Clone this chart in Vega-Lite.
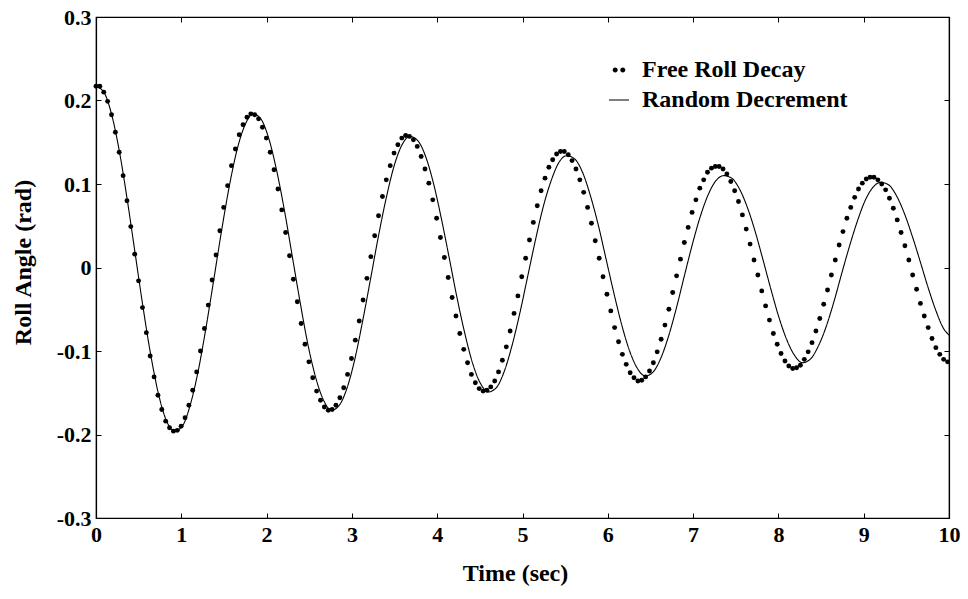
{
  "$schema": "https://vega.github.io/schema/vega-lite/v6.json",
  "width": 853,
  "height": 501,
  "autosize": "none",
  "padding": {"left": 96, "top": 17, "right": 19, "bottom": 81},
  "background": "white",
  "config": {
    "view": {"stroke": "black", "strokeWidth": 1.2},
    "axis": {
      "labelFont": "Liberation Serif", "labelFontWeight": "bold", "labelFontSize": 22, "labelColor": "black",
      "titleFont": "Liberation Serif", "titleFontWeight": "bold", "titleFontSize": 24, "titleColor": "black",
      "domainColor": "black", "domainWidth": 1.2, "tickColor": "black", "tickWidth": 1, "grid": false, "labelFlush": false
    },
    "legend": {"labelFont": "Liberation Serif", "labelFontWeight": "bold", "labelFontSize": 24, "labelColor": "black", "padding": 0, "labelLimit": 0}
  },
  "datasets": {
    "dots": [
      {"t":0,"roll":0.217},{"t":0.045,"roll":0.217},{"t":0.091,"roll":0.210},{"t":0.136,"roll":0.199},{"t":0.182,"roll":0.183},{"t":0.227,"roll":0.162},{"t":0.272,"roll":0.138},{"t":0.318,"roll":0.110},{"t":0.363,"roll":0.080},{"t":0.408,"roll":0.049},{"t":0.454,"roll":0.016},{"t":0.499,"roll":-0.016},{"t":0.545,"roll":-0.048},{"t":0.590,"roll":-0.078},{"t":0.635,"roll":-0.106},{"t":0.681,"roll":-0.131},{"t":0.726,"roll":-0.153},{"t":0.771,"roll":-0.170},{"t":0.817,"roll":-0.184},{"t":0.862,"roll":-0.192},{"t":0.908,"roll":-0.196},
      {"t":0.953,"roll":-0.195},{"t":0.998,"roll":-0.190},{"t":1.044,"roll":-0.180},{"t":1.089,"roll":-0.165},{"t":1.134,"roll":-0.147},{"t":1.180,"roll":-0.125},{"t":1.225,"roll":-0.100},{"t":1.271,"roll":-0.073},{"t":1.316,"roll":-0.045},{"t":1.361,"roll":-0.015},{"t":1.407,"roll":0.015},{"t":1.452,"roll":0.044},{"t":1.497,"roll":0.072},{"t":1.543,"roll":0.098},{"t":1.588,"roll":0.122},{"t":1.634,"roll":0.142},{"t":1.679,"roll":0.159},{"t":1.724,"roll":0.171},{"t":1.770,"roll":0.180},{"t":1.815,"roll":0.184},
      {"t":1.860,"roll":0.183},{"t":1.906,"roll":0.178},{"t":1.951,"roll":0.168},{"t":1.997,"roll":0.155},{"t":2.042,"roll":0.138},{"t":2.087,"roll":0.117},{"t":2.133,"roll":0.094},{"t":2.178,"roll":0.069},{"t":2.223,"roll":0.042},{"t":2.269,"roll":0.014},{"t":2.314,"roll":-0.014},{"t":2.360,"roll":-0.041},{"t":2.405,"roll":-0.067},{"t":2.450,"roll":-0.092},{"t":2.496,"roll":-0.113},{"t":2.541,"roll":-0.132},{"t":2.586,"roll":-0.148},{"t":2.632,"roll":-0.159},{"t":2.677,"roll":-0.167},{"t":2.723,"roll":-0.171},
      {"t":2.768,"roll":-0.170},{"t":2.813,"roll":-0.165},{"t":2.859,"roll":-0.156},{"t":2.904,"roll":-0.144},{"t":2.949,"roll":-0.128},{"t":2.995,"roll":-0.109},{"t":3.040,"roll":-0.087},{"t":3.086,"roll":-0.064},{"t":3.131,"roll":-0.039},{"t":3.176,"roll":-0.013},{"t":3.222,"roll":0.013},{"t":3.267,"roll":0.038},{"t":3.312,"roll":0.062},{"t":3.358,"roll":0.085},{"t":3.403,"roll":0.105},{"t":3.449,"roll":0.122},{"t":3.494,"roll":0.137},{"t":3.539,"roll":0.147},{"t":3.585,"roll":0.155},{"t":3.630,"roll":0.158},
      {"t":3.675,"roll":0.157},{"t":3.721,"roll":0.153},{"t":3.766,"roll":0.145},{"t":3.812,"roll":0.133},{"t":3.857,"roll":0.118},{"t":3.902,"roll":0.101},{"t":3.948,"roll":0.081},{"t":3.993,"roll":0.059},{"t":4.038,"roll":0.036},{"t":4.084,"roll":0.012},{"t":4.129,"roll":-0.012},{"t":4.175,"roll":-0.036},{"t":4.220,"roll":-0.058},{"t":4.265,"roll":-0.079},{"t":4.311,"roll":-0.098},{"t":4.356,"roll":-0.114},{"t":4.401,"roll":-0.128},{"t":4.447,"roll":-0.138},{"t":4.492,"roll":-0.145},{"t":4.538,"roll":-0.148},
      {"t":4.583,"roll":-0.147},{"t":4.628,"roll":-0.143},{"t":4.674,"roll":-0.136},{"t":4.719,"roll":-0.125},{"t":4.764,"roll":-0.111},{"t":4.810,"roll":-0.095},{"t":4.855,"roll":-0.076},{"t":4.901,"roll":-0.055},{"t":4.946,"roll":-0.034},{"t":4.991,"roll":-0.011},{"t":5.037,"roll":0.011},{"t":5.082,"roll":0.033},{"t":5.127,"roll":0.054},{"t":5.173,"roll":0.074},{"t":5.218,"roll":0.092},{"t":5.264,"roll":0.107},{"t":5.309,"roll":0.120},{"t":5.354,"roll":0.129},{"t":5.400,"roll":0.136},{"t":5.445,"roll":0.139},
      {"t":5.490,"roll":0.139},{"t":5.536,"roll":0.135},{"t":5.581,"roll":0.128},{"t":5.627,"roll":0.118},{"t":5.672,"roll":0.105},{"t":5.717,"roll":0.090},{"t":5.763,"roll":0.072},{"t":5.808,"roll":0.053},{"t":5.853,"roll":0.032},{"t":5.899,"roll":0.011},{"t":5.944,"roll":-0.011},{"t":5.990,"roll":-0.032},{"t":6.035,"roll":-0.052},{"t":6.080,"roll":-0.072},{"t":6.126,"roll":-0.089},{"t":6.171,"roll":-0.104},{"t":6.216,"roll":-0.116},{"t":6.262,"roll":-0.126},{"t":6.307,"roll":-0.132},{"t":6.353,"roll":-0.136},
      {"t":6.398,"roll":-0.135},{"t":6.443,"roll":-0.131},{"t":6.489,"roll":-0.124},{"t":6.534,"roll":-0.114},{"t":6.579,"roll":-0.101},{"t":6.625,"roll":-0.086},{"t":6.670,"roll":-0.069},{"t":6.716,"roll":-0.050},{"t":6.761,"roll":-0.030},{"t":6.806,"roll":-0.010},{"t":6.852,"roll":0.010},{"t":6.897,"roll":0.030},{"t":6.942,"roll":0.048},{"t":6.988,"roll":0.066},{"t":7.033,"roll":0.081},{"t":7.079,"roll":0.095},{"t":7.124,"roll":0.105},{"t":7.169,"roll":0.114},{"t":7.215,"roll":0.119},{"t":7.260,"roll":0.121},
      {"t":7.305,"roll":0.121},{"t":7.351,"roll":0.118},{"t":7.396,"roll":0.112},{"t":7.442,"roll":0.103},{"t":7.487,"roll":0.092},{"t":7.532,"roll":0.079},{"t":7.578,"roll":0.063},{"t":7.623,"roll":0.046},{"t":7.668,"roll":0.028},{"t":7.714,"roll":0.009},{"t":7.759,"roll":-0.009},{"t":7.805,"roll":-0.028},{"t":7.850,"roll":-0.046},{"t":7.895,"roll":-0.063},{"t":7.941,"roll":-0.079},{"t":7.986,"roll":-0.092},{"t":8.031,"roll":-0.103},{"t":8.077,"roll":-0.112},{"t":8.122,"roll":-0.118},{"t":8.168,"roll":-0.121},
      {"t":8.213,"roll":-0.120},{"t":8.258,"roll":-0.117},{"t":8.304,"roll":-0.110},{"t":8.349,"roll":-0.101},{"t":8.394,"roll":-0.090},{"t":8.440,"roll":-0.076},{"t":8.485,"roll":-0.061},{"t":8.531,"roll":-0.044},{"t":8.576,"roll":-0.027},{"t":8.621,"roll":-0.009},{"t":8.667,"roll":0.009},{"t":8.712,"roll":0.027},{"t":8.757,"roll":0.043},{"t":8.803,"roll":0.059},{"t":8.848,"roll":0.072},{"t":8.894,"roll":0.084},{"t":8.939,"roll":0.094},{"t":8.984,"roll":0.101},{"t":9.030,"roll":0.106},{"t":9.075,"roll":0.108},
      {"t":9.120,"roll":0.108},{"t":9.166,"roll":0.105},{"t":9.211,"roll":0.100},{"t":9.257,"roll":0.093},{"t":9.302,"roll":0.083},{"t":9.347,"roll":0.071},{"t":9.393,"roll":0.057},{"t":9.438,"roll":0.042},{"t":9.483,"roll":0.026},{"t":9.529,"roll":0.009},{"t":9.574,"roll":-0.009},{"t":9.620,"roll":-0.026},{"t":9.665,"roll":-0.043},{"t":9.710,"roll":-0.058},{"t":9.756,"roll":-0.072},{"t":9.801,"roll":-0.085},{"t":9.846,"roll":-0.096},{"t":9.892,"roll":-0.104},{"t":9.937,"roll":-0.110},{"t":9.983,"roll":-0.113}
    ],
    "line": [
      {"t":0,"roll":0.217},{"t":0.092,"roll":0.210},{"t":0.184,"roll":0.183},{"t":0.276,"roll":0.138},{"t":0.368,"roll":0.080},{"t":0.460,"roll":0.016},{"t":0.552,"roll":-0.048},{"t":0.644,"roll":-0.106},{"t":0.736,"roll":-0.153},{"t":0.828,"roll":-0.184},{"t":0.920,"roll":-0.196},
      {"t":1.012,"roll":-0.190},{"t":1.104,"roll":-0.165},{"t":1.196,"roll":-0.125},{"t":1.288,"roll":-0.073},{"t":1.380,"roll":-0.015},{"t":1.472,"roll":0.044},{"t":1.564,"roll":0.098},{"t":1.656,"roll":0.142},{"t":1.748,"roll":0.171},{"t":1.840,"roll":0.184},
      {"t":1.932,"roll":0.178},{"t":2.024,"roll":0.155},{"t":2.116,"roll":0.117},{"t":2.208,"roll":0.069},{"t":2.300,"roll":0.014},{"t":2.392,"roll":-0.041},{"t":2.484,"roll":-0.092},{"t":2.576,"roll":-0.132},{"t":2.668,"roll":-0.159},{"t":2.760,"roll":-0.171},
      {"t":2.852,"roll":-0.165},{"t":2.944,"roll":-0.144},{"t":3.036,"roll":-0.109},{"t":3.128,"roll":-0.063},{"t":3.220,"roll":-0.013},{"t":3.312,"roll":0.038},{"t":3.404,"roll":0.084},{"t":3.496,"roll":0.122},{"t":3.588,"roll":0.147},{"t":3.680,"roll":0.157},
      {"t":3.772,"roll":0.152},{"t":3.864,"roll":0.133},{"t":3.956,"roll":0.101},{"t":4.048,"roll":0.059},{"t":4.140,"roll":0.012},{"t":4.232,"roll":-0.036},{"t":4.324,"roll":-0.079},{"t":4.416,"roll":-0.115},{"t":4.508,"roll":-0.139},{"t":4.600,"roll":-0.149},
      {"t":4.692,"roll":-0.144},{"t":4.784,"roll":-0.125},{"t":4.876,"roll":-0.094},{"t":4.968,"roll":-0.055},{"t":5.060,"roll":-0.011},{"t":5.152,"roll":0.033},{"t":5.244,"roll":0.073},{"t":5.336,"roll":0.104},{"t":5.428,"roll":0.126},{"t":5.520,"roll":0.134},
      {"t":5.612,"roll":0.130},{"t":5.704,"roll":0.114},{"t":5.796,"roll":0.086},{"t":5.888,"roll":0.051},{"t":5.980,"roll":0.010},{"t":6.072,"roll":-0.031},{"t":6.164,"roll":-0.069},{"t":6.256,"roll":-0.100},{"t":6.348,"roll":-0.121},{"t":6.440,"roll":-0.130},
      {"t":6.532,"roll":-0.125},{"t":6.624,"roll":-0.108},{"t":6.716,"roll":-0.081},{"t":6.808,"roll":-0.047},{"t":6.900,"roll":-0.009},{"t":6.992,"roll":0.028},{"t":7.084,"roll":0.061},{"t":7.176,"roll":0.087},{"t":7.268,"roll":0.104},{"t":7.360,"roll":0.110},
      {"t":7.452,"roll":0.107},{"t":7.544,"roll":0.094},{"t":7.636,"roll":0.072},{"t":7.728,"roll":0.043},{"t":7.820,"roll":0.009},{"t":7.912,"roll":-0.026},{"t":8.004,"roll":-0.059},{"t":8.096,"roll":-0.086},{"t":8.188,"roll":-0.105},{"t":8.280,"roll":-0.114},
      {"t":8.372,"roll":-0.110},{"t":8.464,"roll":-0.095},{"t":8.556,"roll":-0.072},{"t":8.648,"roll":-0.042},{"t":8.740,"roll":-0.008},{"t":8.832,"roll":0.025},{"t":8.924,"roll":0.055},{"t":9.016,"roll":0.080},{"t":9.108,"roll":0.096},{"t":9.200,"roll":0.102},
      {"t":9.292,"roll":0.099},{"t":9.384,"roll":0.086},{"t":9.476,"roll":0.065},{"t":9.568,"roll":0.038},{"t":9.660,"roll":0.008},{"t":9.752,"roll":-0.023},{"t":9.844,"roll":-0.051},{"t":9.936,"roll":-0.073},{"t":10,"roll":-0.081}
    ]
  },
  "layer": [
    {
      "data": {"name": "dots"},
      "mark": {"type": "point", "filled": true, "size": 24, "opacity": 1},
      "encoding": {
        "x": {
          "field": "t", "type": "quantitative",
          "scale": {"domain": [0, 10], "nice": false, "zero": false},
          "axis": {"orient": "bottom", "values": [0,1,2,3,4,5,6,7,8,9,10], "tickSize": -5, "labelPadding": 11,
                   "title": "Time (sec)", "titleX": 419, "titleY": 62, "titleBaseline": "alphabetic", "titleAlign": "center"}
        },
        "y": {
          "field": "roll", "type": "quantitative",
          "scale": {"domain": [-0.3, 0.3], "nice": false, "zero": false},
          "axis": {"orient": "left", "values": [-0.3,-0.2,-0.1,0,0.1,0.2,0.3], "tickSize": -5, "labelPadding": 10,
                   "labelExpr": "datum.value < -0.001 ? '-' + format(-datum.value, '.1f') : (datum.value > 0.001 ? format(datum.value, '.1f') : '0')",
                   "title": "Roll Angle (rad)", "titleX": -66, "titleY": 245, "titleBaseline": "alphabetic", "titleAlign": "center", "titleAngle": -90}
        },
        "color": {
          "datum": "Free Roll Decay",
          "scale": {"domain": ["Free Roll Decay"], "range": ["black"]},
          "legend": {"orient": "none", "legendX": 511, "legendY": 41, "title": null,
                     "symbolType": "M-0.63,0A0.25,0.25,0,1,0,-0.13,0A0.25,0.25,0,1,0,-0.63,0ZM0.13,0A0.25,0.25,0,1,0,0.63,0A0.25,0.25,0,1,0,0.13,0Z",
                     "symbolSize": 400, "labelOffset": 11, "symbolFillColor": "black", "symbolStrokeWidth": 0, "labelLimit": 0}
        }
      }
    },
    {
      "data": {"name": "line"},
      "mark": {"type": "line", "color": "black", "strokeWidth": 1.1, "interpolate": "monotone"},
      "encoding": {
        "x": {
          "field": "t", "type": "quantitative",
          "axis": {"orient": "top", "values": [0,1,2,3,4,5,6,7,8,9,10], "tickSize": -5, "labels": false, "title": null}
        },
        "y": {
          "field": "roll", "type": "quantitative",
          "axis": {"orient": "right", "values": [-0.3,-0.2,-0.1,0,0.1,0.2,0.3], "tickSize": -5, "labels": false, "title": null}
        },
        "strokeDash": {
          "datum": "Random Decrement",
          "scale": {"domain": ["Random Decrement"], "range": [[1, 0]]},
          "legend": {"orient": "none", "legendX": 511, "legendY": 71, "title": null,
                     "symbolType": "stroke", "symbolSize": 400, "labelOffset": 11, "symbolStrokeColor": "black", "symbolStrokeWidth": 1.2, "labelLimit": 0}
        }
      }
    }
  ],
  "resolve": {"axis": {"x": "independent", "y": "independent"}}
}
